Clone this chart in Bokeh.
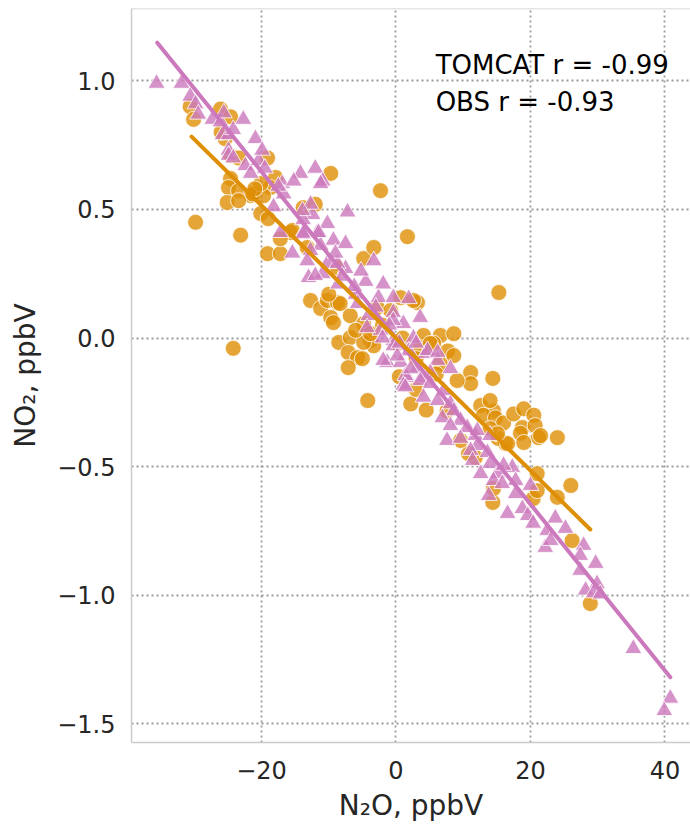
from bokeh.plotting import figure
from bokeh.models import Range1d, CustomJSTickFormatter, Label, Span
from bokeh.embed import file_html
from bokeh.resources import INLINE

# ---- data ----
tomcat_x = [-35.6, -31.9, -30.6, -29.8, -29.4, -27.3, -26.1, -25.6, -25.8, -24.9,
            -24.2, -22.7, -20.9, -24.9, -24.9, -24.2, -22.4, -21.6, -20.4, -19.9,
            -19.5, -16.9, -18.2, -14.2, -12.0, -10.9, -15.2, -16.7, -17.5, -12.4,
            -13.8, -17.2, -10.2, -15.4, -9.3, -11.2, -12.7, -13.8, -11.7, -12.7,
            -7.2, -11.2, -13.9, -13.8, -11.5, -7.5, -3.3, -13.0, -10.2, -7.5,
            -10.9, -8.6, -4.5, -1.9, -6.0, -2.6, -0.4, 1.9, -5.7, -4.1,
            -0.4, 3.6, -2.3, -4.3, 1.1, -0.4, 2.6, 1.9, 4.4, 6.2,
            -1.3, 0.7, 5.1, 3.2, 1.7, 4.1, -13.2, -12.0, -8.7, -0.4,
            1.4, 1.1, -0.4, -1.9, 0.2, 4.7, 6.2, 8.1, 3.6, 1.4,
            5.1, 7.1, 4.1, 6.2, 8.1, 8.6, 6.9, 9.6, 8.1, 10.6,
            7.6, 9.6, 11.8, 12.1, 11.1, 13.6, 11.4, 14.0, 12.6, 15.1,
            17.3, 12.1, 14.0, 14.5, 16.0, 17.8, 20.0, 15.8, 17.8, 18.8,
            16.6, 13.8, 19.6, 20.4, 22.5, 23.7, 25.2, 22.2, 23.0, 27.9,
            27.4, 29.7, 27.4, 29.9, 28.2, 29.4, 30.4, 35.3, 40.8, 39.9,
            -6.2, -3.0, -1.0, 2.2, 3.0, -8.0, -5.2, -9.0, -2.0, 0.5]
tomcat_y = [0.99, 0.99, 0.94, 0.91, 0.87, 0.85, 0.84, 0.875, 0.79, 0.79,
            0.81, 0.85, 0.775, 0.73, 0.71, 0.70, 0.67, 0.64, 0.69, 0.73,
            0.66, 0.60, 0.51, 0.64, 0.66, 0.61, 0.61, 0.56, 0.59, 0.48,
            0.41, 0.41, 0.445, 0.33, 0.38, 0.36, 0.52, 0.46, 0.41, 0.34,
            0.49, 0.60, 0.495, 0.405, 0.41, 0.367, 0.30, 0.235, 0.29, 0.27,
            0.25, 0.21, 0.22, 0.21, 0.17, 0.157, 0.157, 0.153, 0.134, 0.087,
            0.099, 0.08, 0.03, 0.04, 0.056, -0.01, 0.0, -0.05, -0.06, -0.087,
            -0.095, -0.095, -0.134, -0.115, -0.153, -0.153, 0.30, 0.243, 0.29, -0.03,
            -0.146, -0.184, 0.068, -0.087, -0.07, -0.049, -0.056, -0.119, -0.165, -0.19,
            -0.177, -0.204, -0.23, -0.243, -0.256, -0.283, -0.31, -0.32, -0.34, -0.348,
            -0.398, -0.39, -0.379, -0.418, -0.437, -0.445, -0.476, -0.488, -0.527, -0.527,
            -0.503, -0.36, -0.379, -0.554, -0.495, -0.554, -0.573, -0.566, -0.605, -0.663,
            -0.682, -0.612, -0.69, -0.72, -0.748, -0.70, -0.74, -0.814, -0.787, -0.806,
            -0.845, -0.876, -0.903, -0.955, -0.98, -0.99, -0.995, -1.207, -1.40, -1.448,
            0.20, 0.12, 0.05, -0.12, -0.02, 0.24, 0.26, 0.33, 0.0, -0.02]

obs_x = [-29.8, -23.1, -30.6, -26.1, -24.6, -30.1, -25.4, -26.0, -24.6, -23.4,
         -19.1, -24.6, -24.9, -23.4, -21.6, -25.1, -23.4, -17.9, -18.7, -20.1,
         -19.0, -9.7, -15.7, -19.1, -17.2, -13.2, -21.3, -19.7, -2.3, 1.7,
         -4.8, -3.3, -17.2, -15.4, -12.7, -11.2, -9.7, -9.3, -8.5, -6.8,
         -7.1, -5.7, -7.1, -10.2, -8.7, -6.8, -4.8, -2.8, -0.8, 0.7,
         3.2, -3.8, 0.2, 4.1, 6.6, 5.6, 7.7, -8.7, -13.8, -12.0,
         -20.1, -21.0, 15.3, 8.6, 8.6, 11.1, 11.1, 14.4, 12.6, 14.5,
         13.0, 14.8, 16.0, 17.5, 19.0, 20.5, 18.8, 20.7, 21.2, 24.0,
         18.5, 16.3, 15.2, 14.0, 11.8, 10.8, 9.6, -4.2, 3.6, 2.2,
         -3.3, -5.0, 2.6, 9.1, 6.6, 7.6, 21.0, 26.0, 24.0, 26.2,
         28.9, 14.4, 20.4, 21.5, 19.0, 16.6, 15.1, 14.5, 21.0, -24.2,
         -4.8, -3.8, -8.3, 14.0, 5.1, 0.5, 4.5, 3.0,
         -10.0, -6.0, -2.0, 1.0, 3.0, 6.0]
obs_y = [0.45, 0.40, 0.90, 0.89, 0.86, 0.85, 0.775, 0.80, 0.71, 0.70,
         0.70, 0.62, 0.585, 0.573, 0.554, 0.527, 0.534, 0.624, 0.585, 0.484,
         0.464, 0.64, 0.41, 0.328, 0.328, 0.352, 0.56, 0.553, 0.573, 0.394,
         0.309, 0.352, 0.386, 0.418, 0.146, 0.115, 0.08, 0.06, -0.017, 0.002,
         -0.056, -0.076, -0.115, 0.146, 0.138, 0.087, 0.056, 0.119, 0.107, 0.157,
         0.138, -0.01, -0.021, 0.01, 0.01, -0.02, -0.05, 0.274, 0.507, 0.52,
         0.60, 0.58, 0.177, 0.017, -0.068, -0.134, -0.177, -0.157, -0.262, -0.283,
         -0.30, -0.31, -0.33, -0.295, -0.275, -0.30, -0.348, -0.34, -0.387, -0.387,
         -0.37, -0.41, -0.39, -0.352, -0.464, -0.449, -0.398, -0.243, -0.037, -0.256,
         -0.03, -0.08, 0.146, -0.165, -0.10, -0.283, -0.527, -0.573, -0.619, -0.787,
         -1.032, -0.639, -0.624, -0.379, -0.406, -0.41, -0.372, -0.585, -0.593, -0.04,
         -0.017, 0.017, 0.134, -0.243, -0.021, -0.15, -0.28, -0.2,
         0.17, 0.03, 0.05, 0.0, -0.08, -0.14]

tomcat_fit_x = [-35.5, 40.8]
tomcat_fit_y = [1.148, -1.318]
obs_fit_x = [-30.4, 28.9]
obs_fit_y = [0.783, -0.744]

x_ticks = [-20, 0, 20, 40]
y_ticks = [-1.5, -1.0, -0.5, 0.0, 0.5, 1.0]
annotation_texts = ["TOMCAT r = -0.99", "OBS r = -0.93"]
annotation_y = [1.062, 0.917]
annotation_x = 5.9

x_label = "N₂O, ppbV"
y_label = "NO₂, ppbV"

obs_color = "#DE8F05"
tomcat_color = "#CC78BC"
FONT = "DejaVu Sans"
TEXT = "#262626"
SPINE = "#cccccc"

p = figure(width=690, height=828,
           x_range=Range1d(-39.33, 43.8), y_range=Range1d(-1.572, 1.281),
           output_backend="svg", toolbar_location=None,
           min_border_left=131, min_border_right=0, min_border_top=8,
           min_border_bottom=86)
p.background_fill_color = "white"
p.border_fill_color = "white"
p.outline_line_color = None

p.xaxis.ticker = x_ticks
p.yaxis.ticker = y_ticks
p.xaxis.formatter = CustomJSTickFormatter(code="return tick.toFixed(0).replace('-', '\u2212');")
p.yaxis.formatter = CustomJSTickFormatter(code="return tick.toFixed(1).replace('-', '\u2212');")

for ax in (p.xaxis[0], p.yaxis[0]):
    ax.axis_line_color = SPINE
    ax.axis_line_width = 1.5
    ax.major_tick_line_color = None
    ax.minor_tick_line_color = None
    ax.major_tick_out = 0
    ax.major_tick_in = 0
    ax.major_label_text_font = FONT
    ax.major_label_text_font_size = "24px"
    ax.major_label_text_color = TEXT
    ax.axis_label_text_font = FONT
    ax.axis_label_text_font_size = "28px"
    ax.axis_label_text_font_style = "normal"
    ax.axis_label_text_color = TEXT

p.xaxis.axis_label = x_label
p.yaxis.axis_label = y_label
p.xaxis.major_label_standoff = 18
p.xaxis.axis_label_standoff = 7
p.yaxis.major_label_standoff = 16
p.yaxis.axis_label_standoff = 12

for g in (p.xgrid[0], p.ygrid[0]):
    g.grid_line_color = "#999999"
    g.grid_line_width = 1.8
    g.grid_line_dash = "2 3"

p.add_layout(Span(location=1.281, dimension="width", line_color=SPINE, line_width=1.5))

p.scatter(obs_x, obs_y, marker="circle", size=16, fill_color=obs_color,
          fill_alpha=0.8, line_color="white", line_width=1, line_alpha=0.8)
p.scatter(tomcat_x, tomcat_y, marker="triangle", size=17, fill_color=tomcat_color,
          fill_alpha=0.8, line_color="white", line_width=1, line_alpha=0.8)

p.line(tomcat_fit_x, tomcat_fit_y, line_color=tomcat_color, line_width=4, line_cap="round")
p.line(obs_fit_x, obs_fit_y, line_color=obs_color, line_width=4, line_cap="round")

for txt, yy in zip(annotation_texts, annotation_y):
    p.add_layout(Label(x=annotation_x, y=yy, text=txt, text_font=FONT,
                       text_font_size="26px", text_color="black",
                       text_baseline="alphabetic"))

open("out.html", "w").write(file_html(p, INLINE))
